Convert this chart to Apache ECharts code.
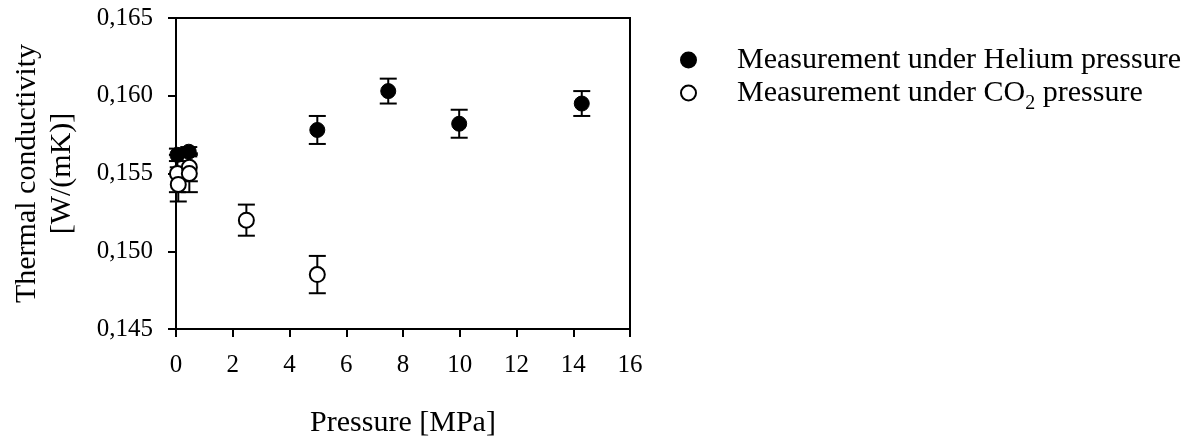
<!DOCTYPE html>
<html>
<head>
<meta charset="utf-8">
<script src="https://cdn.jsdelivr.net/npm/echarts@6/dist/echarts.min.js"></script>
<style>
html,body{margin:0;padding:0;background:#fff;}
#chart{width:1190px;height:443px;}
</style>
</head>
<body>
<div id="chart"></div>
<script>
// Helium series
var heliumX   = [0.05, 0.45, 4.98, 7.48, 9.98, 14.3];
var heliumY   = [0.1562, 0.1564, 0.1578, 0.1603, 0.1582, 0.1595];
var heliumErr = [0.0004, 0.0003, 0.0009, 0.0008, 0.0009, 0.0008];
// CO2 series
var co2X   = [0.05, 0.08, 0.47, 0.47, 2.48, 4.98];
var co2Y   = [0.1550, 0.1543, 0.1554, 0.1550, 0.1520, 0.1485];
var co2Err = [0.0012, 0.0011, 0.0009, 0.0012, 0.0010, 0.0012];
// axes
var xMin = 0, xMax = 16, xStep = 2;
var yMin = 0.145, yMax = 0.165, yStep = 0.005;
var seriesNames = ['Measurement under Helium pressure', 'Measurement under CO2 pressure'];
var xTitle = 'Pressure [MPa]';
var yTitle = 'Thermal conductivity\n[W/(mK)]';

var FONT = 'Liberation Serif';

function pts(xs, ys) { return xs.map(function (x, i) { return [x, ys[i]]; }); }
function errs(xs, ys, es) { return xs.map(function (x, i) { return [x, ys[i] - es[i], ys[i] + es[i]]; }); }

function errRender(params, api) {
  var x = api.value(0), lo = api.value(1), hi = api.value(2);
  var p1 = api.coord([x, hi]), p2 = api.coord([x, lo]);
  var w = 8.5;
  var st = { stroke: '#000', lineWidth: 2 };
  return {
    type: 'group',
    children: [
      { type: 'line', shape: { x1: p1[0], y1: p1[1], x2: p2[0], y2: p2[1] }, style: st },
      { type: 'line', shape: { x1: p1[0] - w, y1: p1[1], x2: p1[0] + w, y2: p1[1] }, style: st },
      { type: 'line', shape: { x1: p2[0] - w, y1: p2[1], x2: p2[0] + w, y2: p2[1] }, style: st }
    ]
  };
}

var chart = echarts.init(document.getElementById('chart'), null, { renderer: 'canvas' });
chart.setOption({
  animation: false,
  backgroundColor: '#fff',
  textStyle: { fontFamily: FONT, color: '#000' },
  grid: { left: 176, right: 560, top: 18, bottom: 107, show: true, borderColor: '#000', borderWidth: 2 },
  legend: {
    orient: 'vertical',
    left: 675,
    top: 40,
    itemWidth: 15,
    itemHeight: 15,
    itemGap: -3,
    data: seriesNames,
    formatter: function (name) {
      if (name.indexOf('CO2') >= 0) return '{n|Measurement under CO}{s|2}{n| pressure}';
      return '{n|' + name + '}';
    },
    textStyle: {
      padding: [0, 0, 0, 36],
      rich: {
        n: { fontFamily: FONT, fontSize: 30, color: '#000', lineHeight: 32 },
        s: { fontFamily: FONT, fontSize: 20, color: '#000', lineHeight: 20, padding: [22, 0, 0, 0] }
      }
    }
  },
  xAxis: {
    type: 'value',
    min: xMin, max: xMax, interval: xStep,
    name: xTitle,
    nameLocation: 'middle',
    nameGap: 79,
    nameTextStyle: { fontFamily: FONT, fontSize: 30, color: '#000' },
    axisLine: { show: true, lineStyle: { color: '#000', width: 2 } },
    axisTick: { show: true, length: 8, lineStyle: { color: '#000', width: 2 } },
    axisLabel: { fontFamily: FONT, fontSize: 25, color: '#000', margin: 24 },
    splitLine: { show: false }
  },
  yAxis: {
    type: 'value',
    min: yMin, max: yMax, interval: yStep,
    name: yTitle,
    nameLocation: 'middle',
    nameRotate: 90,
    nameGap: 96,
    nameTextStyle: { fontFamily: FONT, fontSize: 30, color: '#000', lineHeight: 35 },
    axisLine: { show: true, lineStyle: { color: '#000', width: 2 } },
    axisTick: { show: true, length: 8, lineStyle: { color: '#000', width: 2 } },
    axisLabel: {
      fontFamily: FONT, fontSize: 25, color: '#000', margin: 23,
      formatter: function (v) { return v.toFixed(3).replace('.', ','); }
    },
    splitLine: { show: false }
  },
  series: [
    {
      type: 'custom', name: 'errHe', renderItem: errRender,
      data: errs(heliumX, heliumY, heliumErr), encode: { x: 0, y: [1, 2] }, z: 1, silent: true
    },
    {
      type: 'custom', name: 'errCO2', renderItem: errRender,
      data: errs(co2X, co2Y, co2Err), encode: { x: 0, y: [1, 2] }, z: 1, silent: true
    },
    {
      type: 'scatter', name: seriesNames[0], data: pts(heliumX, heliumY),
      symbol: 'circle', symbolSize: 15, z: 3,
      itemStyle: { color: '#000', borderColor: '#000', borderWidth: 1, opacity: 1 }
    },
    {
      type: 'scatter', name: seriesNames[1], data: pts(co2X, co2Y),
      symbol: 'circle', symbolSize: 15, z: 4,
      itemStyle: { color: '#fff', borderColor: '#000', borderWidth: 2, opacity: 1 }
    }
  ]
});
</script>
</body>
</html>
